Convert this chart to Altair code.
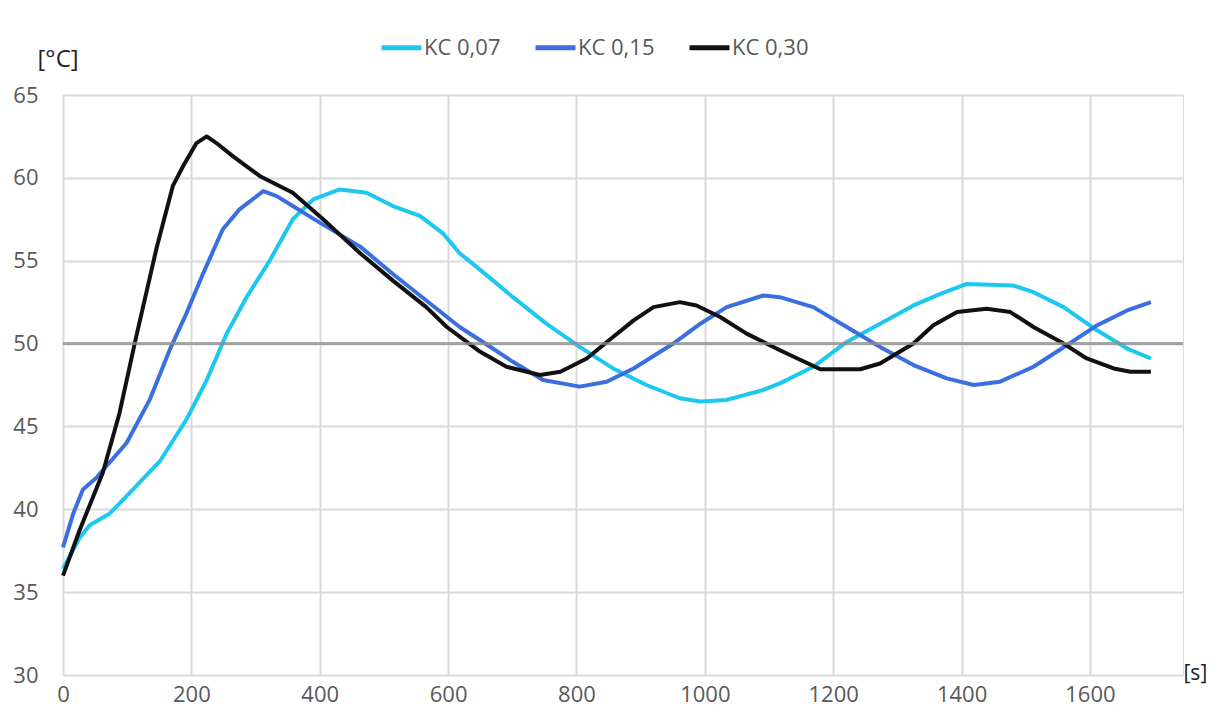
import altair as alt
import pandas as pd

# KC 0,07
t1 = [0, 26, 42, 73, 99, 151, 192, 224, 255, 286, 322, 358, 390, 431, 473, 514, 556, 592, 618, 650, 701, 753, 805, 857, 909, 961, 993, 1034, 1091, 1117, 1169, 1221, 1273, 1325, 1367, 1408, 1481, 1512, 1559, 1611, 1658, 1695]
v1 = [36.4, 38.3, 39.05, 39.75, 40.8, 42.9, 45.4, 47.8, 50.6, 52.8, 55.0, 57.5, 58.7, 59.3, 59.1, 58.3, 57.7, 56.65, 55.45, 54.45, 52.8, 51.2, 49.8, 48.5, 47.5, 46.7, 46.5, 46.6, 47.2, 47.6, 48.6, 50.1, 51.2, 52.3, 53.0, 53.6, 53.5, 53.1, 52.2, 50.8, 49.7, 49.1]

# KC 0,15
t2 = [0, 16, 31, 52, 99, 135, 166, 192, 218, 249, 275, 312, 333, 358, 400, 463, 514, 566, 618, 650, 701, 748, 805, 847, 889, 951, 993, 1034, 1091, 1117, 1169, 1221, 1273, 1325, 1377, 1419, 1460, 1512, 1564, 1611, 1658, 1695]
v2 = [37.7, 39.75, 41.2, 41.9, 44.0, 46.6, 49.6, 51.8, 54.2, 56.9, 58.1, 59.2, 58.9, 58.3, 57.3, 55.85, 54.2, 52.6, 51.0, 50.2, 48.9, 47.8, 47.4, 47.7, 48.5, 50.0, 51.2, 52.2, 52.9, 52.8, 52.2, 51.0, 49.8, 48.7, 47.9, 47.5, 47.7, 48.6, 49.9, 51.1, 52.0, 52.5]

# KC 0,30
t3 = [0, 26, 62, 88, 114, 146, 171, 187, 208, 224, 239, 265, 307, 358, 411, 463, 514, 566, 598, 650, 691, 743, 775, 816, 857, 889, 920, 961, 987, 1024, 1065, 1117, 1180, 1242, 1273, 1325, 1356, 1393, 1439, 1476, 1512, 1559, 1595, 1637, 1663, 1695]
v3 = [36.0, 38.75, 42.2, 45.8, 50.4, 55.8, 59.5, 60.7, 62.1, 62.5, 62.1, 61.3, 60.1, 59.1, 57.3, 55.45, 53.8, 52.2, 51.0, 49.5, 48.6, 48.1, 48.3, 49.1, 50.4, 51.4, 52.2, 52.5, 52.3, 51.6, 50.6, 49.6, 48.45, 48.45, 48.8, 50.0, 51.1, 51.9, 52.1, 51.9, 51.0, 50.0, 49.1, 48.5, 48.3, 48.3]

series_names = ["KC 0,07", "KC 0,15", "KC 0,30"]
series_colors = ["#1CC8F0", "#3B6FE0", "#111111"]
x_ticks = [0, 200, 400, 600, 800, 1000, 1200, 1400, 1600]
y_ticks = [30, 35, 40, 45, 50, 55, 60, 65]
setpoint = 50

rows = []
for name, ts, vs in zip(series_names, [t1, t2, t3], [v1, v2, v3]):
    for i, (t, v) in enumerate(zip(ts, vs)):
        rows.append({"t": t, "v": v, "s": name, "i": i})
df = pd.DataFrame(rows)

FONT = "Open Sans"
GRAY = "#595959"

lines = alt.Chart(df).mark_line(strokeWidth=4, strokeJoin="round").encode(
    x=alt.X("t:Q",
            scale=alt.Scale(domain=[0, 1745], nice=False, zero=False),
            axis=alt.Axis(values=x_ticks, format="d", title="[s]", titleX=1120, titleY=-2,
                          titleAlign="left", titleBaseline="middle", titleAngle=0,
                          titleFontSize=21, titleFontWeight="normal", titleColor="#222222",
                          titleFont=FONT,
                          labelFontSize=22, labelColor=GRAY, labelFont=FONT,
                          labelPadding=9, labelFlush=False, ticks=False, domain=False,
                          grid=True, gridColor="#d9d9d9", gridWidth=2)),
    y=alt.Y("v:Q",
            scale=alt.Scale(domain=[30, 65], nice=False, zero=False),
            axis=alt.Axis(values=y_ticks, title="[°C]", titleX=-26, titleY=-36,
                          titleAlign="left", titleBaseline="middle", titleAngle=0,
                          titleFontSize=24, titleFontWeight="normal", titleColor="#222222",
                          titleFont=FONT,
                          labelFontSize=22, labelColor=GRAY, labelFont=FONT,
                          labelPadding=25, labelFlush=False, ticks=False, domain=False,
                          grid=True, gridColor="#d9d9d9", gridWidth=2)),
    color=alt.Color("s:N",
                    scale=alt.Scale(domain=series_names, range=series_colors),
                    legend=alt.Legend(title=None, orient="none", direction="horizontal",
                                      legendX=316, legendY=-70,
                                      symbolType="stroke", symbolSize=1600,
                                      symbolStrokeWidth=5, labelFontSize=22,
                                      labelColor=GRAY, labelFont=FONT, labelOffset=0,
                                      columnPadding=24)),
    order="i:Q",
)

rule = alt.Chart(pd.DataFrame({"y": [setpoint]})).mark_rule(
    color="#8c8c8c", strokeWidth=3, opacity=0.75
).encode(y="y:Q")

chart = alt.layer(lines, rule).properties(
    width=1120, height=580,
    autosize=alt.AutoSizeParams(type="none"),
    padding={"left": 55, "top": 87, "right": 26, "bottom": 37},
).configure_view(stroke=None).configure(background="white")

chart.save("out.html", embed_options={"renderer": "svg", "actions": False})
